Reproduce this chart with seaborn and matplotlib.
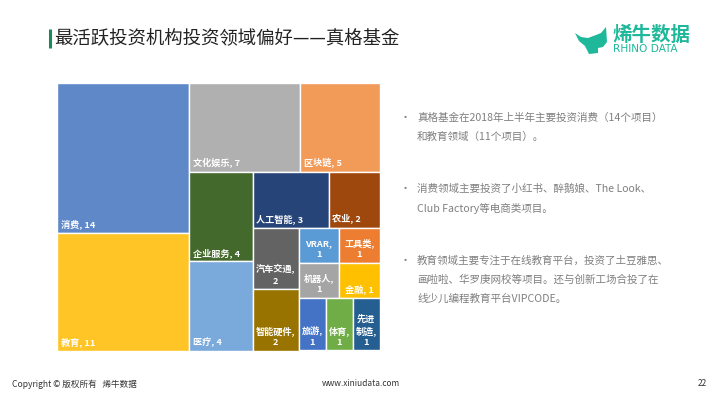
import matplotlib
matplotlib.use("Agg")
import matplotlib.pyplot as plt
import seaborn as sns

# ---- data ----
names = ["消费", "教育", "文化娱乐", "区块链", "企业服务", "医疗", "人工智能", "农业",
         "汽车交通", "智能硬件", "VRAR", "机器人", "工具类", "金融", "旅游", "体育", "先进\n制造"]
values = [14, 11, 7, 5, 4, 4, 3, 2, 2, 2, 1, 1, 1, 1, 1, 1, 1]
colors = ["#5f88c9", "#ffc425", "#b0b0b0", "#f29a58", "#44692c", "#7aa9dc", "#264478", "#9e480e",
          "#636363", "#997300", "#5b9bd5", "#a5a5a5", "#ed7d31", "#ffc000", "#4472c4", "#70ad47", "#255e91"]
centered = [False] * 8 + [True] * 9
separators = [" "] * 8 + ["\n"] * 5 + [" "] + ["\n"] * 3
# hierarchy of the treemap (indices into the lists above); directions alternate by depth
tree = [[0, 1],
        [[2, 3],
         [[4, 5],
          [[6, 7],
           [[8, 9],
            [[[10, 11], [12, 13]],
             [14, 15, 16]]]]]]]

title = "最活跃投资机构投资领域偏好——真格基金"
bullets = [["真格基金在2018年上半年主要投资消费（14个项目）", "和教育领域（11个项目）。"],
           ["消费领域主要投资了小红书、醉鹅娘、The Look、", "Club Factory等电商类项目。"],
           ["教育领域主要专注于在线教育平台，投资了土豆雅思、", "画啦啦、华罗庚网校等项目。还与创新工场合投了在", "线少儿编程教育平台VIPCODE。"]]

sns.set_theme(style="white")
plt.rcParams["font.family"] = ["Noto Sans CJK SC", "DejaVu Sans"]

W, H = 720, 405
fig = plt.figure(figsize=(W / 100, H / 100), dpi=100, facecolor="white")

# page overlay in pixel coordinates
page = fig.add_axes([0, 0, 1, 1])
page.set_xlim(0, W)
page.set_ylim(H, 0)
page.axis("off")

# treemap axes
L, T, R, B = 57.5, 82.5, 379.5, 350.5
ax = fig.add_axes([L / W, 1 - B / H, (R - L) / W, (B - T) / H])


def total(node):
    return values[node] if isinstance(node, int) else sum(total(n) for n in node)


cells = {}


def layout(node, x, y, w, h, horizontal):
    if isinstance(node, int):
        cells[node] = (x, y, w, h)
        return
    s = total(node)
    for child in node:
        f = total(child) / s
        if horizontal:
            layout(child, x, y, w * f, h, False)
            x += w * f
        else:
            layout(child, x, y, w, h * f, True)
            y += h * f


layout(tree, 0.0, 0.0, 1.0, 1.0, True)

for i, name in enumerate(names):
    x, y, w, h = cells[i]
    ax.bar(x, h, width=w, bottom=y, align="edge", color=colors[i], edgecolor="white", linewidth=1.0)
    lab = f"{name},{separators[i]}{values[i]}"
    if centered[i]:
        ax.annotate(lab, (x + w / 2, y + h), xytext=(0, 2.5), textcoords="offset points",
                    ha="center", va="bottom", color="white", fontsize=6.6, fontweight="bold",
                    linespacing=1.0 if separators[i] == " " else 1.3)
    else:
        ax.annotate(lab, (x, y + h), xytext=(2.5, 2.5), textcoords="offset points",
                    ha="left", va="bottom", color="white", fontsize=6.6, fontweight="bold")

ax.set_xlim(0, 1)
ax.set_ylim(1, 0)
ax.set_xticks([])
ax.set_yticks([])
sns.despine(ax=ax, left=True, bottom=True)

# title
page.plot([50, 50], [29, 48], color="#1a8a5e", lw=2.2, solid_capstyle="butt")
page.text(54, 39, title, fontsize=13.25, color="#222222", va="center", ha="left")

# logo
teal = "#1fb89a"
rhino = [(575, 33), (581, 37), (588, 38), (596, 35), (601, 33), (606, 27), (607, 42), (603, 47),
         (598, 48), (598, 53), (589, 54), (585, 46), (579, 41)]
page.fill(*zip(*rhino), color=teal, lw=0)
page.text(612, 35, "烯牛数据", fontsize=14, color=teal, va="center", ha="left", fontweight="bold")
page.text(613, 49.5, "RHINO DATA", fontsize=7.6, color=teal, va="center", ha="left",
          family=["DejaVu Sans"])

# bullets
ys = [[118, 137], [189, 208], [261, 280, 299]]
for lines, yy in zip(bullets, ys):
    page.text(405, yy[0], "•", fontsize=8, color="#808080", ha="center", va="center")
    for line, y in zip(lines, yy):
        page.text(417, y, line, fontsize=7.6, color="#7f7f7f", ha="left", va="center")

# footer
page.text(12, 384, "Copyright © 版权所有   烯牛数据", fontsize=6.2, color="#333333", ha="left", va="center")
page.text(322, 384, "www.xiniudata.com", fontsize=6, color="#333333", ha="left", va="center")
page.text(707, 384, "22", fontsize=6, color="#333333", ha="right", va="center")

fig.savefig("out.png", dpi=100, facecolor="white")
